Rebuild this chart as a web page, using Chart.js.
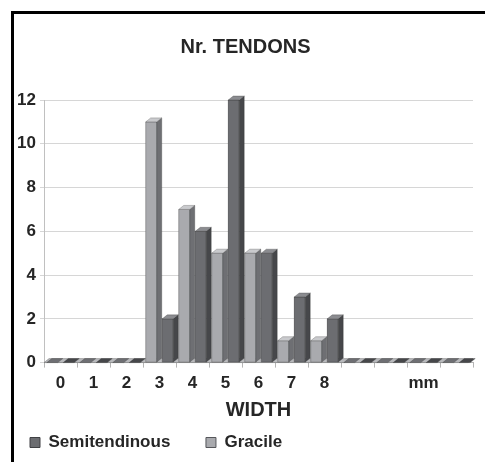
<!DOCTYPE html>
<html>
<head>
<meta charset="utf-8">
<script src="https://cdn.jsdelivr.net/npm/chart.js@4.4.1/dist/chart.umd.min.js"></script>
<style>
  html, body { margin: 0; padding: 0; background: #fff; overflow: hidden; }
  #wrap { position: relative; width: 485px; height: 462px; }
  #frame { position: absolute; left: 11px; top: 11px; width: 480px; height: 460px;
           border-top: 3px solid #000; border-left: 3px solid #000; }
  #can { position: absolute; left: 0; top: 0; }
</style>
</head>
<body>
<div id="wrap">
  <div id="frame"></div>
  <canvas id="can" width="485" height="462"></canvas>
</div>
<script>
// chart values
var widths = ['0', '1', '2', '3', '4', '5', '6', '7', '8', '', '', 'mm', ''];
var gracile = [0, 0, 0, 11, 7, 5, 5, 1, 1, 0, 0, 0, 0];
var semitendinous = [0, 0, 0, 2, 6, 12, 5, 3, 2, 0, 0, 0, 0];
var yMax = 12;
var yStep = 2;

var FONT = "'Liberation Sans', Arial, sans-serif";
var DX = 5, DY = 4;

function poly(ctx, pts, fill) {
    ctx.beginPath();
    ctx.moveTo(pts[0][0], pts[0][1]);
    for (var i = 1; i < pts.length; i++) ctx.lineTo(pts[i][0], pts[i][1]);
    ctx.closePath();
    ctx.fillStyle = fill;
    ctx.fill();
    ctx.stroke();
}

// fake 3d: floor, then front/side/top of every bar, left series first
var depth3d = {
    id: 'depth3d',
    afterDatasetsDraw: function (chart) {
        var ctx = chart.ctx;
        var a = chart.chartArea;
        ctx.save();
        ctx.lineWidth = 0.6;
        ctx.strokeStyle = 'rgba(40,40,40,0.45)';
        poly(ctx, [[a.left, a.bottom], [a.left + DX, a.bottom - DY], [a.right, a.bottom - DY], [a.right - DX, a.bottom]], '#b8b9bc');

        chart.data.datasets.forEach(function (ds, i) {
            var meta = chart.getDatasetMeta(i);
            meta.data.forEach(function (bar) {
                var p = bar.getProps(['x', 'y', 'base', 'width'], true);
                var l = p.x - p.width / 2, r = p.x + p.width / 2;
                if (p.base - p.y < 0.5) {
                    // empty class: only a flat slab on the floor
                    poly(ctx, [[l, p.y], [l + DX, p.y - DY], [r + DX, p.y - DY], [r, p.y]], ds.sideColor);
                    return;
                }
                poly(ctx, [[l, p.y], [r, p.y], [r, p.base], [l, p.base]], ds.backgroundColor);
                poly(ctx, [[r, p.y], [r + DX, p.y - DY], [r + DX, p.base - DY], [r, p.base]], ds.sideColor);
                poly(ctx, [[l, p.y], [l + DX, p.y - DY], [r + DX, p.y - DY], [r, p.y]], ds.topColor);
            });
        });
        ctx.restore();
    }
};

var chartdata = {
    labels: widths,
    datasets: [
        {
            label: 'Gracile',
            data: gracile,
            backgroundColor: '#a9aaae',
            sideColor: '#6e6f73',
            topColor: '#c9cacd',
            borderColor: '#55565a',
            borderWidth: 0
        },
        {
            label: 'Semitendinous',
            data: semitendinous,
            backgroundColor: '#6c6d71',
            sideColor: '#46474a',
            topColor: '#8b8c90',
            borderColor: '#404144',
            borderWidth: 0
        }
    ]
};

var ctx = document.getElementById('can').getContext('2d');

window.myBar = new Chart(ctx, {
    type: 'bar',
    data: chartdata,
    plugins: [depth3d],
    options: {
        responsive: false,
        animation: false,
        layout: { padding: { left: 18, right: 12, top: 14, bottom: 1 } },
        datasets: { bar: { categoryPercentage: 1, barPercentage: 0.667 } },
        plugins: {
            tooltip: { enabled: false },
            title: {
                display: true,
                text: 'Nr. TENDONS',
                color: '#262626',
                font: { family: FONT, size: 20, weight: 'bold' },
                padding: { top: 21, bottom: 41 }
            },
            legend: {
                position: 'bottom',
                align: 'start',
                reverse: true,
                labels: {
                    color: '#262626',
                    font: { family: FONT, size: 17, weight: 'bold' },
                    boxWidth: 10,
                    boxHeight: 10,
                    padding: 12,
                    generateLabels: function (chart) {
                        return chart.data.datasets.map(function (ds, i) {
                            return {
                                text: i === 1 ? ds.label + '     ' : ds.label,
                                fillStyle: ds.backgroundColor,
                                strokeStyle: ds.borderColor,
                                lineWidth: 1,
                                fontColor: '#262626',
                                datasetIndex: i
                            };
                        });
                    }
                }
            }
        },
        scales: {
            x: {
                offset: true,
                grid: { display: true, drawOnChartArea: false, offset: true, tickLength: 5, color: '#b5b5b5' },
                border: { color: '#b5b5b5' },
                ticks: {
                    color: '#262626',
                    padding: 6,
                    maxRotation: 0,
                    autoSkip: false,
                    font: { family: FONT, size: 17, weight: 'bold' }
                },
                title: {
                    display: true,
                    text: 'WIDTH',
                    color: '#262626',
                    font: { family: FONT, size: 20, weight: 'bold' },
                    padding: { top: -2, bottom: 0 }
                }
            },
            y: {
                min: 0,
                max: yMax,
                afterFit: function (s) { s.width = 26; },
                grid: { color: '#d6d6d6', tickLength: 4 },
                border: { color: '#c0c0c0' },
                ticks: {
                    stepSize: yStep,
                    color: '#262626',
                    padding: 4,
                    font: { family: FONT, size: 17, weight: 'bold' }
                }
            }
        }
    }
});
</script>
</body>
</html>
